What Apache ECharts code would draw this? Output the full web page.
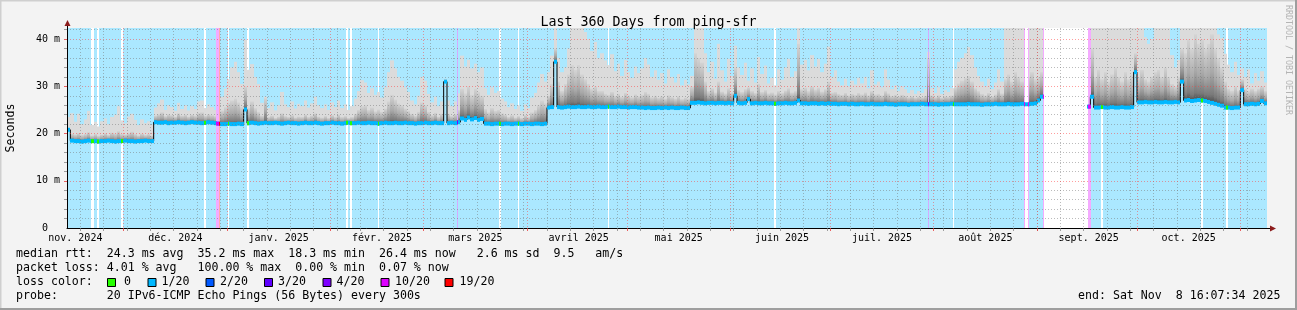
<!DOCTYPE html>
<html><head><meta charset="utf-8">
<script src="https://cdn.jsdelivr.net/npm/echarts@6/dist/echarts.min.js"></script>
<style>html,body{margin:0;padding:0;background:#f3f3f3}#c{width:1297px;height:310px}</style>
</head><body><div id="c"></div>
<script>
// ---- data (day index 0 = 14 Nov 2024, one value per day, ms) ----
const median = [
20.8,18.5,18.4,18.4,18.3,18.4,18.5,18.4,18.4,18.3,
18.4,18.4,18.5,18.4,18.3,18.4,18.4,18.5,18.4,18.4,
18.3,18.4,18.4,18.5,18.4,18.4,22.4,22.3,22.3,22.4,
22.2,22.3,22.3,22.4,22.3,22.2,22.3,22.4,22.3,22.3,
22.2,22.3,22.4,22.3,22.2,22.1,22.0,22.0,22.1,22.0,
22.0,22.1,22.0,25.1,22.2,22.3,22.2,22.1,22.2,22.3,
22.2,22.2,22.3,22.2,22.1,22.2,22.3,22.2,22.2,22.1,
22.2,22.3,22.2,22.2,22.3,22.2,22.1,22.2,22.2,22.3,
22.2,22.2,22.1,22.2,22.3,22.2,22.2,22.3,22.2,22.2,
22.3,22.2,22.2,22.1,22.2,22.3,22.2,22.2,22.3,22.2,
22.2,22.3,22.2,22.2,22.1,22.2,22.2,22.3,22.2,22.2,
22.3,22.2,22.2,31.0,22.2,22.3,22.2,22.4,23.2,22.9,
23.4,23.0,23.3,22.9,23.1,22.1,22.1,22.0,22.1,22.1,
22.0,22.1,22.1,22.0,22.1,22.1,22.0,22.1,22.1,22.0,
22.1,22.1,22.0,22.1,25.5,25.6,35.2,25.6,25.5,25.6,
25.7,25.6,25.6,25.7,25.6,25.6,25.7,25.6,25.6,25.7,
25.6,25.6,25.7,25.6,25.6,25.7,25.6,25.6,25.5,25.6,
25.6,25.5,25.5,25.4,25.5,25.4,25.4,25.5,25.4,25.5,
25.4,25.5,25.4,25.4,25.5,25.4,25.4,26.5,26.5,26.6,
26.5,26.4,26.5,26.5,26.4,26.5,26.5,26.4,26.5,26.4,
28.0,26.5,26.4,26.5,27.3,26.4,26.5,26.4,26.4,26.5,
26.4,26.4,26.3,26.4,26.4,26.5,26.4,26.4,26.5,27.0,
26.4,26.4,26.3,26.4,26.4,26.3,26.4,26.3,26.4,26.3,
26.3,26.2,26.3,26.3,26.2,26.3,26.2,26.2,26.3,26.2,
26.2,26.3,26.2,26.2,26.2,26.3,26.2,26.2,26.1,26.2,
26.2,26.2,26.1,26.2,26.2,26.2,26.3,26.2,26.2,26.2,
26.2,26.1,26.2,26.2,26.2,26.3,26.2,26.2,26.2,26.2,
26.3,26.2,26.2,26.2,26.1,26.2,26.2,26.2,26.3,26.2,
26.2,26.2,26.3,26.2,26.2,26.2,26.3,26.2,26.2,26.3,
26.4,27.0,27.8,null,null,null,null,null,null,null,
null,null,null,null,null,null,25.7,27.8,25.5,25.5,
25.6,25.5,25.5,25.6,25.5,25.5,25.6,25.5,25.5,25.6,
33.0,26.6,26.6,26.7,26.6,26.6,26.7,26.6,26.6,26.7,
26.6,26.6,26.7,26.6,31.0,27.0,27.1,26.9,27.0,27.1,
27.0,26.9,26.7,26.5,26.3,26.1,25.9,25.5,25.5,25.4,
25.5,25.5,29.2,26.2,26.2,26.3,26.2,26.3,26.9,26.4
];
// highest ping of the day (45 = beyond the top of the graph)
const smokeTop = [
23.5,24.3,22.5,24.2,22.0,23.0,24.8,21.8,22.5,21.5,
22.6,23.2,22.0,23.5,24.0,25.8,22.8,22.2,23.6,24.2,
22.9,21.8,23.0,22.2,22.6,21.9,25.5,26.4,27.2,25.0,
26.0,25.6,24.8,26.5,25.2,26.0,24.9,25.8,25.2,26.8,
27.0,25.4,26.2,25.6,25.0,26.4,27.8,29.5,31.5,34.0,
35.2,33.0,30.5,39.8,33.5,34.7,32.0,30.5,26.5,27.8,
25.4,26.6,24.9,26.0,28.8,26.2,25.6,26.8,25.3,26.3,
25.8,27.0,25.5,26.4,27.8,26.0,25.4,26.2,25.0,26.6,
25.6,27.0,25.4,26.2,25.0,25.8,27.4,29.0,31.3,30.8,
28.6,29.6,28.2,28.8,27.6,29.8,33.0,35.5,33.8,32.0,
31.2,29.8,28.8,27.0,26.2,28.0,32.0,31.2,28.4,26.6,
27.8,25.8,26.8,31.6,27.0,25.8,26.8,28.5,36.5,34.2,
35.6,33.8,34.8,33.0,34.0,29.6,28.2,29.8,28.6,29.0,
27.4,26.8,25.6,26.4,25.2,26.0,24.8,26.2,25.4,27.6,
28.6,30.8,32.6,31.0,33.0,36.5,45,36.0,33.0,34.0,
38.0,45,45,45,45,41.5,40.0,37.5,39.4,36.0,
37.0,35.5,34.5,36.8,33.2,34.8,32.2,35.6,33.0,31.8,
34.2,32.8,33.8,36.0,34.6,32.0,33.4,31.4,32.8,30.6,
33.6,32.0,30.8,32.6,30.2,31.4,30.4,32.2,45,45,
45,37.0,33.0,35.2,31.6,39.0,33.4,31.0,35.8,32.2,
38.6,34.0,32.4,35.0,31.2,33.8,30.8,36.2,32.6,34.4,
30.6,31.8,30.2,33.6,31.4,34.0,35.8,32.0,33.2,45,
34.6,35.6,33.4,36.6,34.2,35.8,33.0,34.8,38.4,32.0,
33.4,31.0,30.2,31.6,30.0,31.2,30.4,31.8,30.6,32.0,
29.6,33.4,30.4,31.0,29.8,33.6,31.4,29.4,30.2,29.0,
30.0,29.4,28.6,29.2,28.4,29.0,28.6,29.4,37.3,29.6,
28.6,29.8,28.4,29.2,28.8,29.6,33.6,35.2,36.0,37.0,
38.3,36.6,34.0,32.2,31.0,30.0,31.6,29.4,30.8,33.6,
31.0,45,45,45,45,45,45,45,45,45,
45,45,45,null,null,null,null,null,null,null,
null,null,null,null,null,null,45,45,45,45,
45,45,45,45,45,45,45,45,45,45,
45,45,45,40.4,39.0,40.0,45,45,45,45,
45,36.6,34.0,35.6,45,45,45,45,45,45,
45,45,45,45,45,41.0,40.2,36.9,34.6,33.0,
35.2,32.4,33.8,32.0,33.6,30.6,32.8,31.2,33.2,30.8
];
// upper edge of the dense (dark) part of the smoke
const smokeDark = [
21.0,20.0,19.8,20.1,19.7,19.9,20.3,19.6,19.9,19.5,
19.8,20.1,19.7,20.2,20.0,20.5,19.9,19.8,20.1,20.4,
19.9,19.6,20.0,19.7,19.9,19.6,23.8,24.1,24.5,23.7,
24.1,23.9,23.6,24.3,23.8,24.0,23.6,24.0,23.8,24.4,
24.5,23.8,24.1,23.9,23.7,24.3,24.9,25.6,26.5,27.0,
27.4,26.6,25.6,30.0,25.4,26.8,25.4,24.6,23.8,27.5,
23.5,23.8,23.3,23.6,24.3,23.7,23.5,23.9,23.4,23.6,
23.5,24.0,23.5,23.8,24.3,23.6,23.4,23.7,23.3,23.9,
23.5,24.0,23.5,23.7,23.3,23.5,24.2,25.0,25.8,26.0,
25.0,25.5,24.7,25.1,24.6,25.3,26.8,28.2,27.2,26.4,
26.0,25.3,24.8,24.2,23.8,24.6,26.6,26.0,24.6,23.9,
24.4,23.6,24.2,31.4,24.2,23.7,24.1,25.0,29.5,28.5,
30.0,28.2,29.5,28.8,28.0,25.2,24.5,25.4,24.8,25.0,
24.3,24.0,23.5,23.9,23.4,23.7,23.3,23.9,23.5,24.5,
25.0,26.0,27.0,26.4,28.0,30.5,38.0,31.0,29.0,30.5,
32.5,34.5,33.5,34.5,32.5,31.5,30.5,29.5,30.0,29.0,
29.0,28.4,28.2,28.8,28.0,28.4,27.8,28.6,28.1,27.7,
28.3,27.9,28.2,28.8,28.4,27.7,28.0,27.6,27.9,27.4,
28.1,27.7,27.4,27.9,27.3,27.6,27.4,30.0,37.0,36.0,
35.0,31.0,29.0,29.6,28.7,31.0,28.9,28.5,29.6,28.7,
34.0,29.2,28.8,29.4,29.8,29.0,28.6,30.5,28.8,29.2,
28.5,28.7,28.3,29.0,28.6,29.1,29.6,28.7,29.0,39.0,
29.4,29.7,29.0,30.0,29.3,29.7,28.9,29.4,31.0,28.7,
28.8,28.4,28.2,28.6,28.1,28.4,28.2,28.6,28.3,28.7,
28.1,29.0,28.3,28.4,28.1,29.0,28.5,28.0,28.2,27.9,
28.2,28.0,27.7,27.9,27.6,27.8,27.7,28.0,36.0,28.1,
27.7,28.1,27.6,27.9,27.8,28.1,29.8,30.6,31.2,31.8,
32.2,31.0,29.6,29.0,28.4,28.1,28.6,27.9,28.3,29.4,
28.5,31.5,32.5,31.0,33.0,32.0,31.0,30.5,32.0,33.0,
31.5,32.0,33.0,null,null,null,null,null,null,null,
null,null,null,null,null,null,31.0,38.0,32.0,33.5,
31.5,33.0,31.0,32.5,34.0,32.0,31.0,33.0,31.5,32.5,
37.0,32.0,33.5,31.5,31.0,32.0,33.0,33.5,32.0,34.0,
32.0,30.5,30.0,32.0,38.0,37.0,40.0,38.0,41.0,39.0,
40.0,38.0,39.0,41.0,38.0,36.0,34.0,31.0,29.5,29.0,
30.0,29.0,31.5,29.5,29.0,29.5,29.0,29.5,30.0,29.0
];
// periods with data, in days
const dataRanges = [[0, 293.0], [306.5, 360]];
// periods without any loss (white background, green median)
const zeroLossStripes = [[7.3,8.0],[9.1,9.6],[16.3,16.8],[41.1,41.7],[48.2,48.6],[54.1,54.7],
  [83.7,84.3],[84.9,85.5],[93.4,93.7],[129.7,130.2],[135.4,135.7],[162.4,162.7],[212.2,212.7],
  [265.9,266.2],[310.1,310.7],[340.1,340.7],[347.6,348.2]];
// periods with heavy loss: [start, end, lost pings of 20]
const highLossStripes = [[44.7,45.5,10],[45.5,45.8,19],[117.0,117.3,4],[258.2,258.5,4],
  [287.0,287.3,10],[288.2,288.6,10],[292.8,293.0,10],[306.4,307.2,10]];
// unknown periods
const noDataRanges = [[287.3,288.2],[293.0,306.5]];

const monthStarts = [-13, 17, 48, 79, 107, 138, 168, 199, 229, 260, 291, 321, 352];
const monthNames = ['nov. 2024','déc. 2024','janv. 2025','févr. 2025','mars 2025','avril 2025',
  'mai 2025','juin 2025','juil. 2025','août 2025','sept. 2025','oct. 2025'];
const firstMonday = 4;
const yTicks = [0, 10, 20, 30, 40];
const yTickLabels = ['0  ', '10 m', '20 m', '30 m', '40 m'];
const lossLevels = [0, 1, 2, 3, 4, 10, 19];
const lossLabels = ['0', '1/20', '2/20', '3/20', '4/20', '10/20', '19/20'];
const lossColors = ['#26ff00', '#00b8ff', '#0059ff', '#5e00ff', '#7e00ff', '#dd00ff', '#ff0000'];
const statLines = [
  'median rtt:  24.3 ms avg  35.2 ms max  18.3 ms min  26.4 ms now   2.6 ms sd  9.5   am/s',
  'packet loss: 4.01 % avg   100.00 % max  0.00 % min  0.07 % now',
  'loss color:',
  'probe:       20 IPv6-ICMP Echo Pings (56 Bytes) every 300s'
];
const endText = 'end: Sat Nov  8 16:07:34 2025';
const titleText = 'Last 360 Days from ping-sfr';

// ---- chart ----
const YMAX = 42.35, XMAX = 360;
const MONO = '"DejaVu Sans Mono", monospace';
const W = 1297, H = 310;
const GRID = {left: 67, top: 28, width: 1200, height: 200};

function lossColor(l) { return lossColors[lossLevels.indexOf(l)]; }
function light(hex, a) {
  const r = parseInt(hex.slice(1,3),16), g = parseInt(hex.slice(3,5),16), b = parseInt(hex.slice(5,7),16);
  const f = c => Math.round(255 - (255 - c) * a);
  return 'rgb(' + f(r) + ',' + f(g) + ',' + f(b) + ')';
}
function xr(api, s, e) {
  const a = Math.round(api.coord([s, 0])[0]);
  let b = Math.round(api.coord([e, 0])[0]);
  if (b <= a) b = a + 1;
  return [a, b];
}
function fullRect(api, s, e, fill) {
  const [a, b] = xr(api, s, e);
  const yt = api.coord([0, YMAX])[1], yb = api.coord([0, 0])[1];
  return {type: 'rect', shape: {x: a, y: yt, width: b - a, height: yb - yt}, style: {fill: fill}};
}

const weekTicks = [];
for (let d = firstMonday; d < XMAX; d += 7) weekTicks.push(d);
const monthTicks = monthStarts.filter(d => d > 0 && d < XMAX);
const labelDays = monthStarts.slice(0, monthNames.length).map(d => d + 15.5);
const minorY = [];
for (let v = 2; v < YMAX; v += 2) if (v % 10 !== 0) minorY.push(v);

const smokeData = [], bandData = [], lineData = [];
median.forEach((m, i) => {
  lineData.push([i, m]);
  if (m != null) { smokeData.push([i, m, smokeDark[i], smokeTop[i]]); bandData.push([i, m]); }
});
lineData.push([XMAX, median[median.length - 1]]);
const stripeBand = zeroLossStripes.map(s => [s[0], s[1], 0]).concat(highLossStripes);

const minorStyle = {color: 'rgba(120,120,120,0.5)', width: 1, type: [1, 2]};
const majorStyle = {color: 'rgba(255,60,60,0.5)', width: 1, type: [1, 2]};
const smokeGrad = new echarts.graphic.LinearGradient(0, 1, 0, 0, [
  {offset: 0, color: '#4c4c4c'}, {offset: 0.12, color: '#7a7a7a'}, {offset: 0.45, color: '#a9a9a9'},
  {offset: 1, color: '#d4d4d4'}]);

const chart = echarts.init(document.getElementById('c'), null, {renderer: 'canvas', width: W, height: H});

const graphic = [
  {type: 'line', shape: {x1: 0, y1: 0.5, x2: W, y2: 0.5}, style: {stroke: '#cfcfcf', lineWidth: 2}, silent: true},
  {type: 'line', shape: {x1: 0.5, y1: 0, x2: 0.5, y2: H}, style: {stroke: '#cfcfcf', lineWidth: 2}, silent: true},
  {type: 'line', shape: {x1: 0, y1: H - 1, x2: W, y2: H - 1}, style: {stroke: '#9e9e9e', lineWidth: 2}, silent: true},
  {type: 'line', shape: {x1: W - 1, y1: 0, x2: W - 1, y2: H}, style: {stroke: '#9e9e9e', lineWidth: 2}, silent: true},
  {type: 'line', z: 100, shape: {x1: 67.5, y1: 28, x2: 67.5, y2: 24}, style: {stroke: '#000', lineWidth: 1}, silent: true},
  {type: 'polygon', z: 100, shape: {points: [[64.5, 26], [70.5, 26], [67.5, 20]]}, style: {fill: '#8c1c1c'}, silent: true},
  {type: 'line', z: 100, shape: {x1: 1266, y1: 228.5, x2: 1271, y2: 228.5}, style: {stroke: '#000', lineWidth: 1}, silent: true},
  {type: 'polygon', z: 100, shape: {points: [[1270, 225.5], [1270, 231.5], [1276, 228.5]]}, style: {fill: '#8c1c1c'}, silent: true},
  {type: 'text', x: 11, y: 128, rotation: Math.PI / 2, silent: true,
   style: {text: 'Seconds', font: '11.6px ' + MONO, fill: '#000', align: 'center', verticalAlign: 'middle'}},
  {type: 'text', x: 1288, y: 60, rotation: -Math.PI / 2, silent: true,
   style: {text: 'RRDTOOL / TOBI OETIKER', font: '8.3px ' + MONO, fill: '#b4b4b4', align: 'center', verticalAlign: 'middle'}},
  {type: 'text', x: 1078, y: 296.3, silent: true,
   style: {text: endText, font: '11.6px ' + MONO, fill: '#000', align: 'left', verticalAlign: 'middle'}}
];
const rowY = [254.3, 268.3, 282.3, 296.3];
statLines.forEach((t, k) => graphic.push({type: 'text', x: 16, y: rowY[k], silent: true,
  style: {text: t, font: '11.6px ' + MONO, fill: '#000', align: 'left', verticalAlign: 'middle'}}));
const boxX = [107.5, 148, 206, 264.5, 323, 381, 445];
const boxTextX = [124, 161.5, 220, 278, 336.5, 395, 459.5];
lossLabels.forEach((lab, k) => {
  graphic.push({type: 'rect', shape: {x: boxX[k], y: 278.5, width: 8, height: 8}, silent: true,
    style: {fill: lossColors[k], stroke: '#000', lineWidth: 1}});
  graphic.push({type: 'text', x: boxTextX[k], y: rowY[2], silent: true,
    style: {text: lab, font: '11.6px ' + MONO, fill: '#000', align: 'left', verticalAlign: 'middle'}});
});

const option = {
  animation: false,
  backgroundColor: '#f3f3f3',
  title: {text: titleText, left: 'center', top: 11,
    textStyle: {fontFamily: MONO, fontSize: 13.3, fontWeight: 'normal', color: '#000'}},
  grid: {left: GRID.left, top: GRID.top, width: GRID.width, height: GRID.height,
    show: true, backgroundColor: '#ffffff', borderWidth: 0, containLabel: false},
  xAxis: [
    {type: 'value', min: 0, max: XMAX, position: 'bottom', z: 10,
     axisLine: {show: true, onZero: false, lineStyle: {color: '#000', width: 1}},
     axisTick: {show: true, customValues: weekTicks, length: 3, lineStyle: {color: 'rgba(120,120,120,0.7)'}},
     axisLabel: {show: false}, splitLine: {show: true, lineStyle: minorStyle}},
    {type: 'value', min: 0, max: XMAX, position: 'bottom', z: 11,
     axisLine: {show: false, onZero: false},
     axisTick: {show: true, customValues: monthTicks, length: 3, lineStyle: {color: 'rgba(230,60,60,0.8)'}},
     axisLabel: {show: false}, splitLine: {show: true, lineStyle: majorStyle}},
    {type: 'value', min: 0, max: XMAX, position: 'bottom', z: 12,
     axisLine: {show: false, onZero: false}, axisTick: {show: false}, splitLine: {show: false},
     axisLabel: {show: true, customValues: labelDays, margin: 5, fontFamily: MONO, fontSize: 10, color: '#000',
       formatter: v => {
         let best = 0;
         labelDays.forEach((d, k) => { if (Math.abs(d - v) < Math.abs(labelDays[best] - v)) best = k; });
         return monthNames[best];
       }}}
  ],
  yAxis: [
    {type: 'value', min: 0, max: YMAX, position: 'left', z: 10,
     axisLine: {show: false, onZero: false},
     axisTick: {show: true, customValues: minorY, length: 3, lineStyle: {color: 'rgba(120,120,120,0.7)'}},
     axisLabel: {show: false}, splitLine: {show: true, lineStyle: minorStyle}},
    {type: 'value', min: 0, max: YMAX, position: 'left', z: 11,
     axisLine: {show: true, onZero: false, lineStyle: {color: '#000', width: 1}},
     axisTick: {show: true, customValues: yTicks.filter(v => v > 0), length: 3, lineStyle: {color: 'rgba(230,60,60,0.8)'}},
     axisLabel: {show: true, customValues: yTicks, margin: 7, fontFamily: MONO, fontSize: 10, color: '#000',
       formatter: v => yTickLabels[yTicks.indexOf(v)]},
     splitLine: {show: true, lineStyle: majorStyle}}
  ],
  series: [
    {type: 'custom', name: 'background', z: 1, silent: true, data: dataRanges,
     renderItem: (p, api) => fullRect(api, api.value(0), api.value(1), light(lossColor(1), 0.33))},
    {type: 'custom', name: 'no loss', z: 2, silent: true, data: zeroLossStripes,
     renderItem: (p, api) => fullRect(api, api.value(0), api.value(1), '#ffffff')},
    {type: 'custom', name: 'smoke', z: 3, silent: true, data: smokeData,
     renderItem: (p, api) => {
       const i = api.value(0), m = api.value(1), d = Math.min(api.value(2), YMAX), t = Math.min(api.value(3), YMAX);
       const [a, b] = xr(api, i, i + 1);
       const ym = api.coord([i, m])[1], yd = api.coord([i, d])[1], yt = api.coord([i, t])[1];
       const ch = [{type: 'rect', shape: {x: a, y: yt, width: b - a, height: ym - yt}, style: {fill: '#dbdbdb'}}];
       if (d > m) ch.push({type: 'rect', shape: {x: a, y: yd, width: b - a, height: ym - yd}, style: {fill: smokeGrad}});
       return {type: 'group', children: ch};
     }},
    {type: 'custom', name: 'unknown', z: 4, silent: true, data: noDataRanges,
     renderItem: (p, api) => fullRect(api, api.value(0), api.value(1), '#ffffff')},
    {type: 'custom', name: 'heavy loss', z: 5, silent: true, data: highLossStripes,
     renderItem: (p, api) => fullRect(api, api.value(0), api.value(1), light(lossColor(api.value(2)), 0.33))},
    {type: 'line', name: 'median', z: 6, silent: true, data: lineData, step: 'end', symbol: 'none',
     connectNulls: false, lineStyle: {color: '#000', width: 1}},
    {type: 'custom', name: 'median band', z: 7, silent: true, data: bandData,
     renderItem: (p, api) => {
       const i = api.value(0), m = api.value(1);
       const [a, b] = xr(api, i, i + 1);
       const y = api.coord([i, m])[1];
       return {type: 'rect', shape: {x: a, y: y - 2, width: b - a, height: 4}, style: {fill: lossColor(1)}};
     }},
    {type: 'custom', name: 'median loss', z: 8, silent: true, data: stripeBand,
     renderItem: (p, api) => {
       const s = api.value(0), e = api.value(1), l = api.value(2);
       const day = Math.min(XMAX - 1, Math.floor((s + e) / 2));
       const m = median[day];
       if (m == null) return null;
       const [a, b] = xr(api, s, e);
       const y = api.coord([day, m])[1];
       return {type: 'rect', shape: {x: a, y: y - 2, width: b - a, height: 4}, style: {fill: lossColor(l)}};
     }}
  ],
  graphic: graphic
};
chart.setOption(option);
</script>
</body></html>
